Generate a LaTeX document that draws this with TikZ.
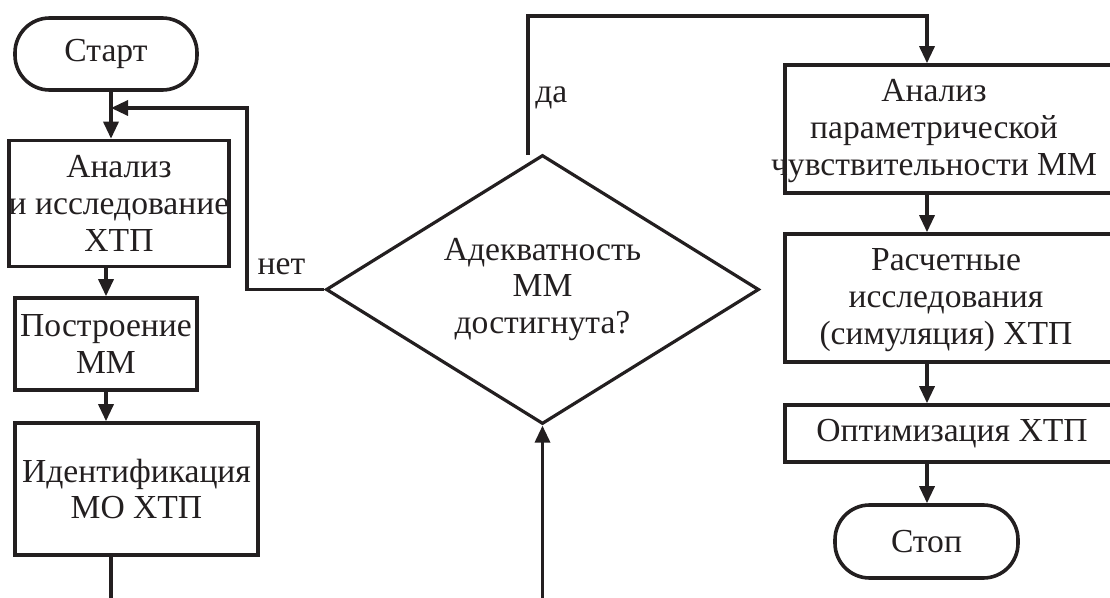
\documentclass[tikz,border=0pt]{standalone}
\usepackage{fontspec}
\setmainfont{Liberation Serif}
\usetikzlibrary{arrows.meta,shapes.geometric}
\definecolor{ink}{RGB}{35,31,32}
\def\pxu{0.75pt}
\tikzset{
  txt/.style={font=\fontsize{25.2pt}{27.5pt}\selectfont, text=ink, align=center},
  blk/.style={txt, draw=ink, line width=2.7pt, rectangle, inner sep=0pt},
  term/.style={blk, rounded corners=26pt},
  cond/.style={txt, draw=ink, line width=2.4pt, diamond, aspect=1.6, inner sep=0pt},
  lbl/.style={txt, inner sep=0pt},
  link/.style={draw=ink, line width=2.5pt},
  arr/.style={link, -{Triangle[length=12.75pt,width=11.25pt]}}
}
\begin{document}
\begin{tikzpicture}[x=0.75pt,y=-0.75pt]
\useasboundingbox (0,0) rectangle (1110,598);
\clip (0,0) rectangle (1110,598);

% left column
\node[term, minimum width=182*\pxu, minimum height=72*\pxu] (start) at (106,54) {Старт};
\node[blk, minimum width=218*\pxu, minimum height=126*\pxu] (b1) at (119,203.5)
  {Анализ\\и исследование\\ХТП};
\node[blk, minimum width=182*\pxu, minimum height=92*\pxu] (b2) at (106,344)
  {Построение\\ММ};
\node[blk, minimum width=243*\pxu, minimum height=132*\pxu] (b3) at (136.5,489)
  {Идентификация\\МО ХТП};

% decision
\node[cond, minimum width=433*\pxu, minimum height=269*\pxu] (dia) at (542.5,289.5)
  {Адекватность\\ММ\\достигнута?};

% right column (boxes run past the right margin)
\node[blk, minimum width=340*\pxu, minimum height=128*\pxu] (r1) at (955,129) {};
\node[lbl] (r1t) at (934,131) {Анализ\\параметрической\\чувствительности ММ};
\node[blk, minimum width=340*\pxu, minimum height=128*\pxu] (r2) at (955,298) {};
\node[lbl] (r2t) at (946,300) {Расчетные\\исследования\\(симуляция) ХТП};
\node[blk, minimum width=340*\pxu, minimum height=57*\pxu] (r3) at (955,433.5) {};
\node[lbl] (r3t) at (952,433.5) {Оптимизация ХТП};
\node[term, minimum width=183*\pxu, minimum height=73*\pxu] (stop) at (926.5,541.5) {Стоп};

% branch labels
\node[lbl, anchor=base] (no) at (281.5,275) {нет};
\node[lbl, anchor=base west] (yes) at (535,103) {да};

% helper points
\coordinate (jn) at (111,108);
\coordinate (fb) at (247,108);
\coordinate (yA) at (528,155);
\coordinate (yT) at (927,16);
\coordinate (outL) at (111,600);
\coordinate (inD) at (542.5,600);

% connectors
\draw[arr] (start.south -| jn) -- (b1.north -| jn);
\draw[arr] (dia.west) -| (fb) -- (jn);
\draw[arr] (b1.south -| b2.north) -- (b2.north);
\draw[arr] (b2.south) -- (b2.south |- b3.north);
\draw[link] (b3.south -| outL) -- (outL);
\draw[arr] (inD) -- (dia.south);
\draw[arr] (yA) |- (yT) -- (r1.north -| yT);
\draw[arr] (r1.south -| yT) -- (r2.north -| yT);
\draw[arr] (r2.south -| yT) -- (r3.north -| yT);
\draw[arr] (r3.south -| yT) -- (stop.north -| yT);
\end{tikzpicture}
\end{document}
